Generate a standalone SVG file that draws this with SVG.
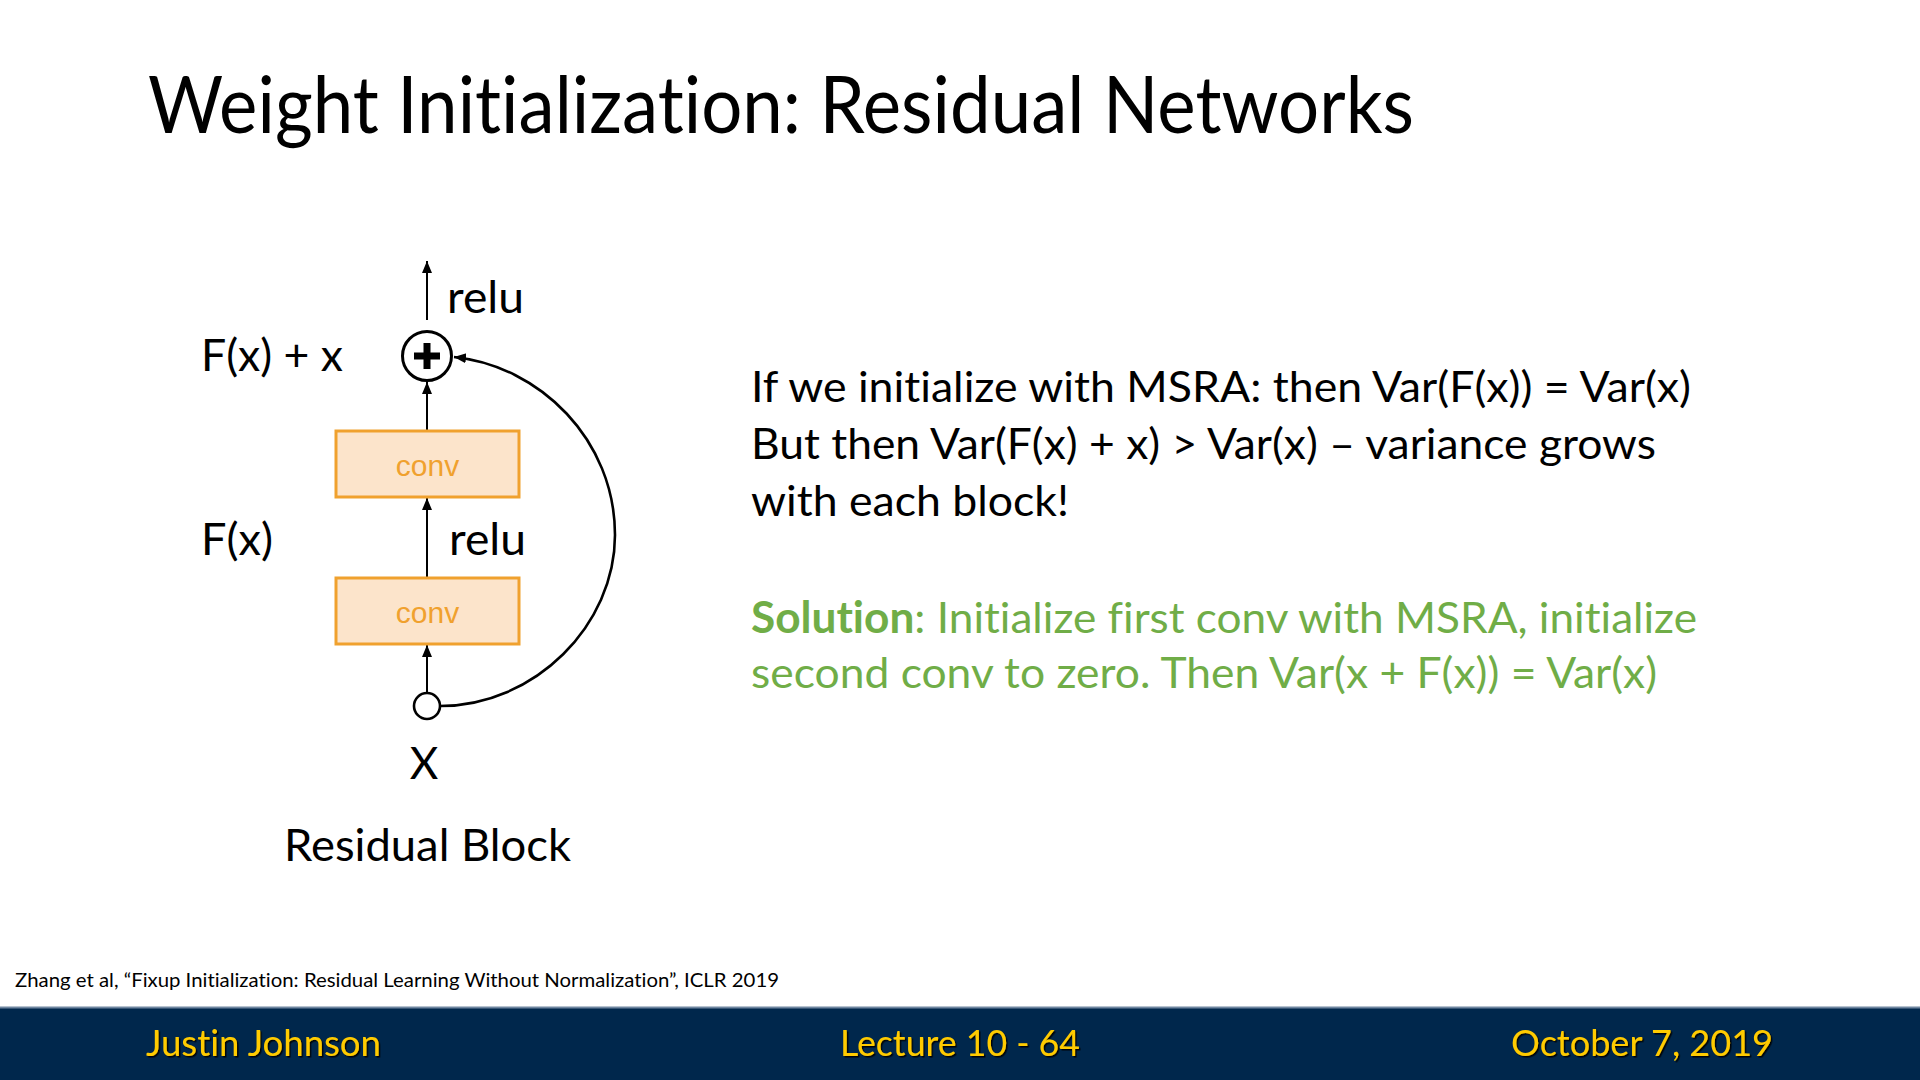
<svg xmlns="http://www.w3.org/2000/svg" width="1920" height="1080" viewBox="0 0 1920 1080">
<style>
  text { font-variant-ligatures: none; }
  .t { font-family: Lato, "Open Sans", sans-serif; fill: #000; }
  .lbl { font-family: Lato, "Open Sans", sans-serif; font-size: 44px; fill: #000; }
  .body { font-family: Lato, "Open Sans", sans-serif; font-size: 43px; fill: #000; }
  .green { font-family: Lato, "Open Sans", sans-serif; font-size: 43px; fill: #70AD47; }
  .conv rect { fill: #FCE4CB; stroke: #F0A12E; stroke-width: 3; }
  .conv text { font-family: "Liberation Sans", Arial, sans-serif; font-size: 30px; fill: #F0A12E; text-anchor: middle; }
  .edge { stroke: #000; stroke-width: 2; fill: none; marker-end: url(#arr); }
  .foot { font-family: Lato, "Open Sans", sans-serif; font-size: 37px; fill: #FFCB05; filter: url(#sh); }
</style>
<defs>
  <marker id="arr" markerUnits="userSpaceOnUse" markerWidth="14" markerHeight="12" refX="12" refY="5" orient="auto">
    <path d="M0,0 L12,5 L0,10 z" fill="#000"/>
  </marker>
  <filter id="sh" x="-10%" y="-30%" width="120%" height="160%">
    <feDropShadow dx="1.5" dy="1.5" stdDeviation="0.6" flood-color="#000" flood-opacity="0.9"/>
  </filter>
</defs>
<rect width="1920" height="1080" fill="#fff"/>

<text id="title" class="t" x="148" y="133" font-size="79" textLength="1266" lengthAdjust="spacingAndGlyphs">Weight Initialization: Residual Networks</text>

<g id="connectors">
  <line class="edge" x1="427" y1="320" x2="427" y2="261"/>
  <line class="edge" x1="427" y1="431" x2="427" y2="382"/>
  <line class="edge" x1="427" y1="578" x2="427" y2="498"/>
  <line class="edge" x1="427" y1="692" x2="427" y2="645"/>
  <path class="edge" style="stroke-width:2.6" d="M440,706 C535,706 615,625 615,535 C615,440 540,366 454,357"/>
</g>

<g id="add">
  <circle cx="427" cy="356" r="24.5" fill="#fff" stroke="#000" stroke-width="3"/>
  <rect x="414" y="352.5" width="26" height="7" fill="#000"/>
  <rect x="423.5" y="343" width="7" height="26" fill="#000"/>
</g>
<g id="conv2" class="conv">
  <rect x="336" y="431" width="183" height="66"/>
  <text x="427.5" y="476">conv</text>
</g>
<g id="conv1" class="conv">
  <rect x="336" y="578" width="183" height="66"/>
  <text x="427.5" y="623">conv</text>
</g>
<g id="input">
  <circle cx="427" cy="706" r="13" fill="#fff" stroke="#000" stroke-width="2.6"/>
</g>

<g id="labels">
  <text class="lbl" x="447" y="313" textLength="77" lengthAdjust="spacingAndGlyphs">relu</text>
  <text class="lbl" x="201" y="371" textLength="142" lengthAdjust="spacingAndGlyphs">F(x) + x</text>
  <text class="lbl" x="201" y="555" textLength="72" lengthAdjust="spacingAndGlyphs">F(x)</text>
  <text class="lbl" x="449" y="555" textLength="77" lengthAdjust="spacingAndGlyphs">relu</text>
  <text class="lbl" x="424" y="779" text-anchor="middle">X</text>
  <text class="lbl" x="284" y="861" textLength="287" lengthAdjust="spacingAndGlyphs">Residual Block</text>
</g>

<g id="text">
  <text class="body" x="751" y="402" textLength="940" lengthAdjust="spacingAndGlyphs">If we initialize with MSRA: then Var(F(x)) = Var(x)</text>
  <text class="body" x="751" y="459" textLength="905" lengthAdjust="spacingAndGlyphs">But then Var(F(x) + x) &gt; Var(x) – variance grows</text>
  <text class="body" x="751" y="516" textLength="318" lengthAdjust="spacingAndGlyphs">with each block!</text>
  <text class="green" x="751" y="633" textLength="946" lengthAdjust="spacingAndGlyphs"><tspan font-weight="bold">Solution</tspan>: Initialize first conv with MSRA, initialize</text>
  <text class="green" x="751" y="688" textLength="906" lengthAdjust="spacingAndGlyphs">second conv to zero. Then Var(x + F(x)) = Var(x)</text>
</g>

<text id="citation" class="t" x="15" y="987" font-size="19" textLength="764" lengthAdjust="spacingAndGlyphs">Zhang et al, “Fixup Initialization: Residual Learning Without Normalization”, ICLR 2019</text>

<g id="footer">
  <rect x="0" y="1007" width="1920" height="73" fill="#00274C"/>
  <line x1="0" y1="1007.5" x2="1920" y2="1007.5" stroke="#6f86a0" stroke-width="2"/>
  <text class="foot" x="146" y="1056" textLength="235" lengthAdjust="spacingAndGlyphs">Justin Johnson</text>
  <text class="foot" x="840" y="1056" textLength="240" lengthAdjust="spacingAndGlyphs">Lecture 10 - 64</text>
  <text class="foot" x="1511" y="1056" textLength="262" lengthAdjust="spacingAndGlyphs">October 7, 2019</text>
</g>
</svg>
